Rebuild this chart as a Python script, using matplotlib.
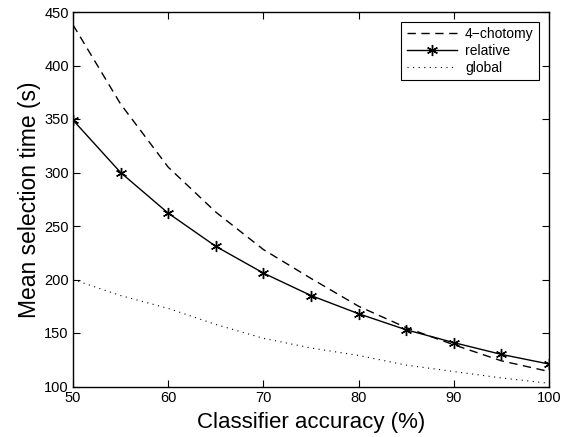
import matplotlib
matplotlib.use("Agg")
import matplotlib.pyplot as plt

plt.rcParams['font.family'] = ['Liberation Sans', 'DejaVu Sans']

accuracy = [50, 55, 60, 65, 70, 75, 80, 85, 90, 95, 100]
chotomy4 = [438, 364, 305, 263, 228, 201, 175, 155, 139, 124, 114]
relative = [349, 300, 262, 231, 206, 185, 168, 153, 141, 130, 121]
global_ = [200, 185, 173, 158, 145, 136, 129, 120, 114, 108, 103]

fig = plt.figure(figsize=(5.64, 4.37), dpi=100)
ax = fig.add_axes([73/564, 1 - 386.5/437, (549-73)/564, (386.5-12)/437])

ax.plot(accuracy, chotomy4, color='black', linestyle=(0, (6, 4)), lw=1.0, label='4\u2212chotomy')
ax.plot(accuracy, relative, color='black', linestyle='-', lw=1.0,
        marker=(6, 2, 0), markersize=8, markeredgewidth=1.0, label='relative')
ax.plot(accuracy, global_, color='black', linestyle=(0, (1, 4)), lw=0.8, label='global')

ax.set_xlim(50, 100)
ax.set_ylim(100, 450)
ax.set_xticks([50, 60, 70, 80, 90, 100])
ax.set_yticks([100, 150, 200, 250, 300, 350, 400, 450])
ax.tick_params(direction='in', top=True, right=True, labelsize=10.5, length=5, width=0.8, pad=3)
for s in ax.spines.values():
    s.set_linewidth(1.0)

ax.set_xlabel('Classifier accuracy (%)', fontsize=16, labelpad=5)
ax.set_ylabel('Mean selection time (s)', fontsize=16.5, labelpad=2)

leg = ax.legend(loc='upper right', fontsize=10, fancybox=False, framealpha=1,
                edgecolor='black', borderpad=0.4, labelspacing=0.2, handlelength=3.6,
                handletextpad=0.6, borderaxespad=0.7)
leg.get_frame().set_linewidth(0.8)

fig.savefig('out.png', dpi=100)
